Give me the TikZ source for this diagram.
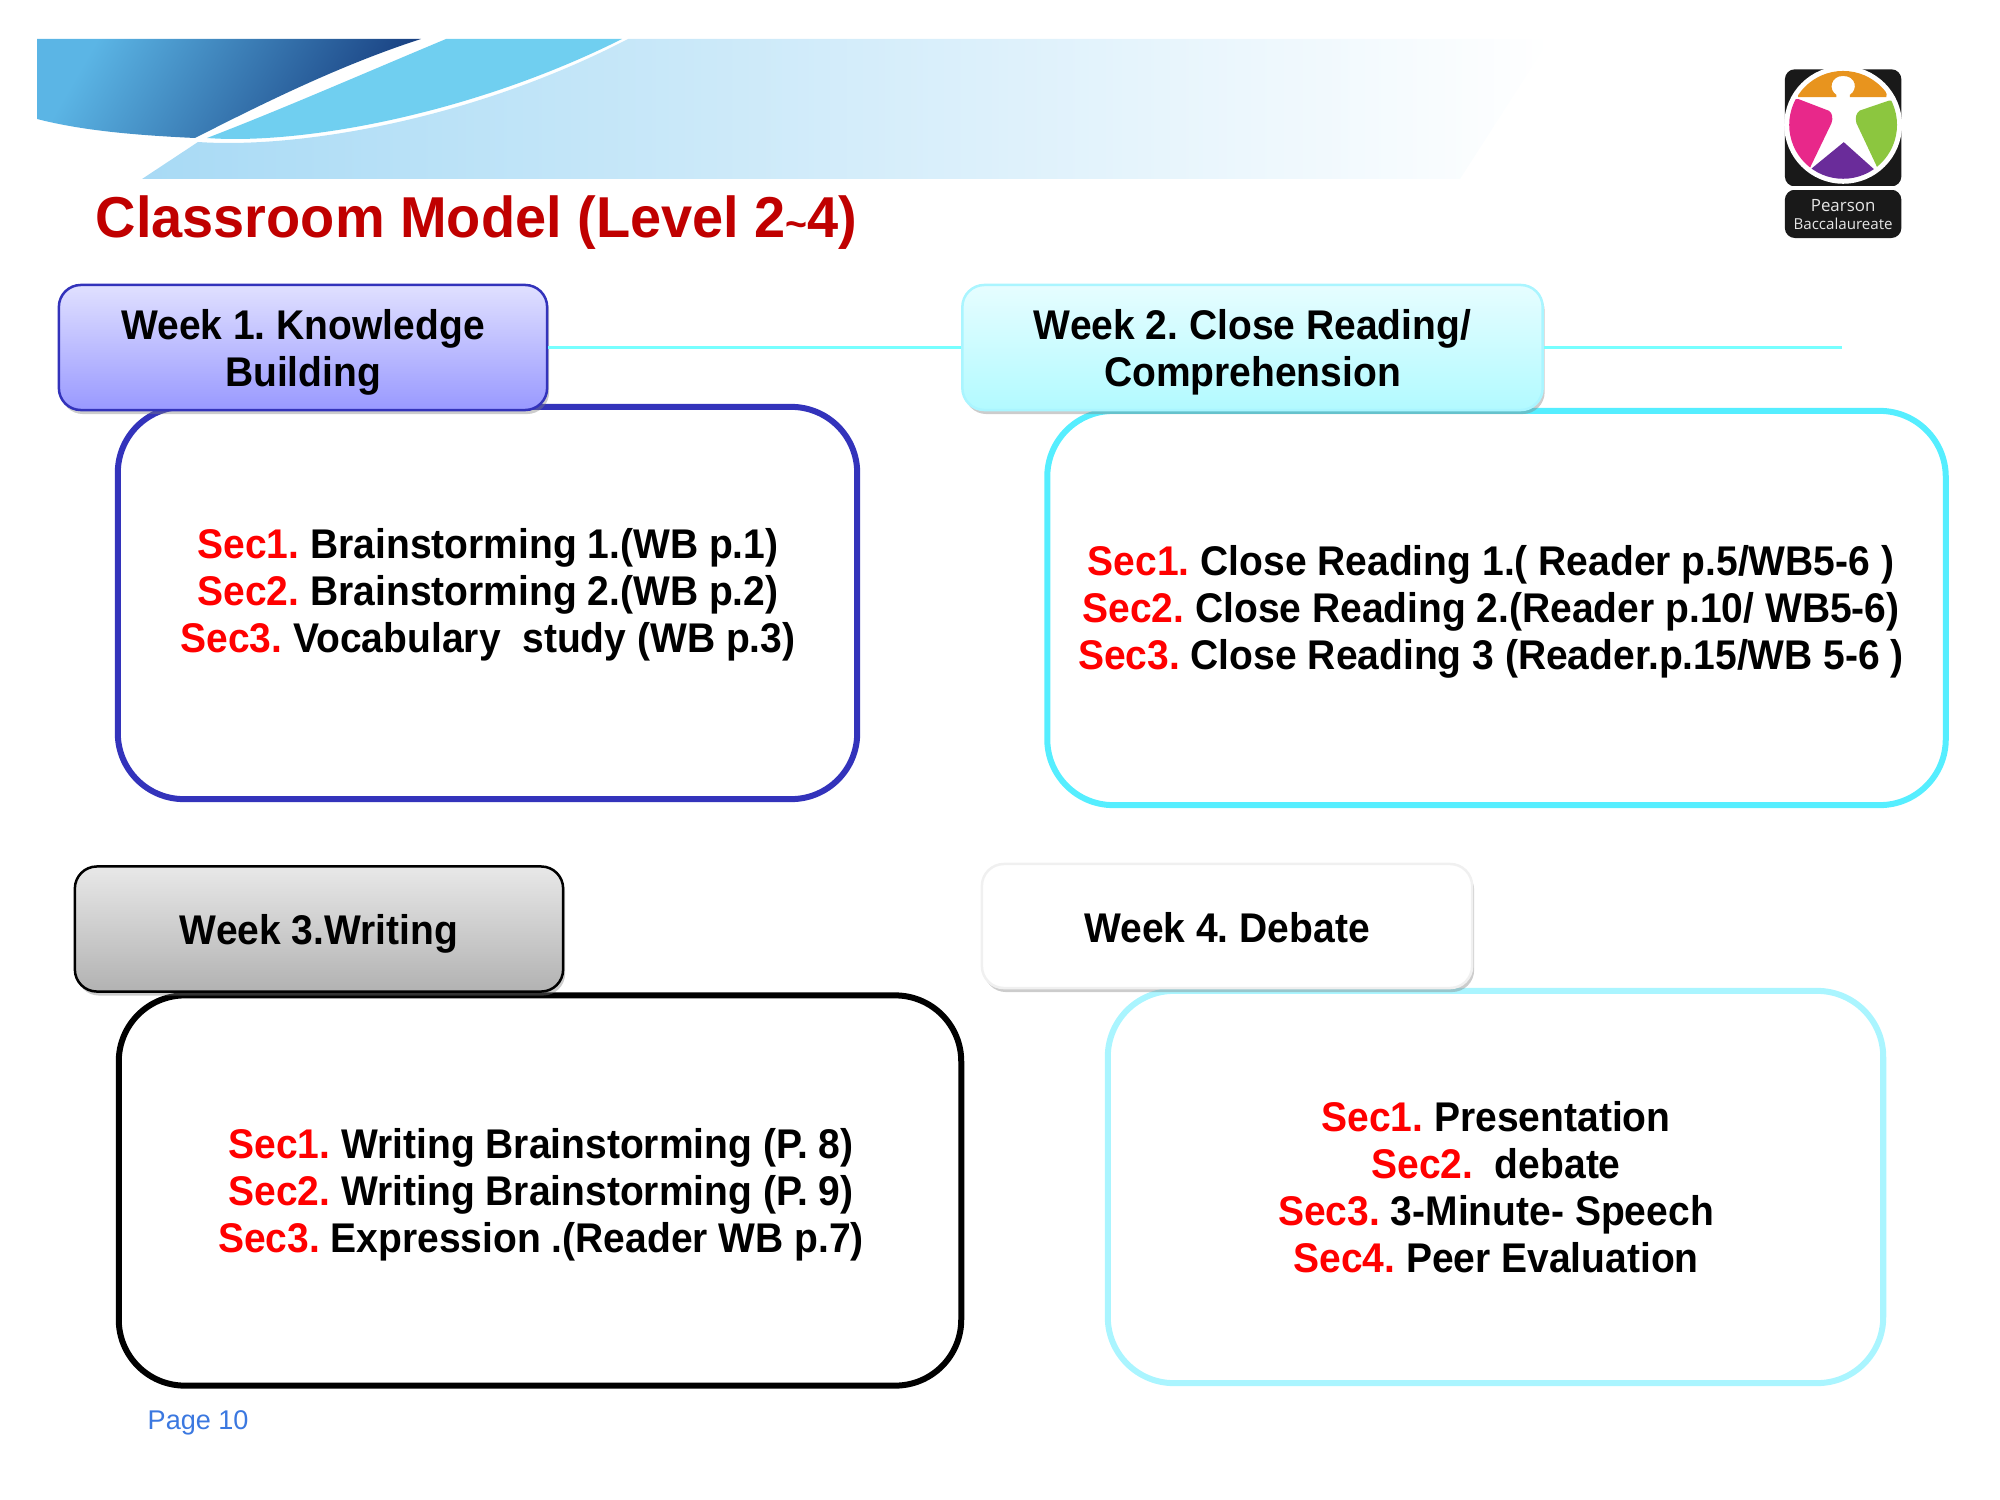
\documentclass[tikz,border=0pt]{standalone}
\usepackage{fontspec}
\setmainfont[FakeStretch=0.94]{Liberation Sans}
\newfontfamily\titlefont[FakeStretch=0.97]{Liberation Sans}
\newfontfamily\pagefont{Liberation Sans}
\newfontfamily\logofont{Open Sans}
\usetikzlibrary{shadows}
\definecolor{titlered}{HTML}{C00000}
\definecolor{blueline}{HTML}{3333BB}
\definecolor{cyanline}{HTML}{55EEFF}
\definecolor{paleline}{HTML}{AAF5FF}
\definecolor{hairline}{HTML}{77FFFF}
\definecolor{pagecolor}{HTML}{3B78E0}
\definecolor{lightblue}{HTML}{A8DAF5}
\definecolor{midblue}{HTML}{AFDCF5}
\definecolor{skyblue}{HTML}{70CFF0}
\definecolor{darkleft}{HTML}{5BB5E5}
\definecolor{darkmid}{HTML}{6996C8}
\definecolor{darkright}{HTML}{194182}
\definecolor{logoorange}{HTML}{E8941E}
\definecolor{logopink}{HTML}{E8288A}
\definecolor{logogreen}{HTML}{8CC63F}
\definecolor{logopurple}{HTML}{6A2C9A}
\newcommand{\secnum}[1]{\textcolor{red}{Sec#1.}}
\tikzset{
  weekbox/.style={rounded corners=0.22cm,inner sep=0pt,minimum width=4.88cm,minimum height=1.25cm,line width=0.025cm,
    drop shadow={shadow xshift=0.02cm,shadow yshift=-0.04cm,opacity=0.4}},
  weektext/.style={align=center,inner sep=0pt,font=\fontsize{11.8}{13.3}\selectfont\bfseries\frenchspacing},
  secbox/.style={draw,rounded corners=0.66cm,line width=0.06cm,inner sep=0pt},
  sectext/.style={align=center,inner sep=0pt,font=\fontsize{11.8}{13.3}\selectfont\bfseries\frenchspacing},
}
\begin{document}
\begin{tikzpicture}[x=0.01cm,y=-0.01cm]
	\useasboundingbox (0,0) rectangle (2000,1500);
	% banner
	\shade[left color=lightblue,middle color=midblue,right color=white]
		(142,179) -- (198,142) .. controls (300,149) and (474,119) .. (628,39) -- (1550,39) -- (1460,179) -- cycle;
	\fill[skyblue] (446,39) .. controls (360,75) and (280,110) .. (207,138) .. controls (300,145) and (470,115) .. (622,39) -- cycle;
	\shade[left color=darkleft,middle color=darkmid,right color=darkright,shading angle=60]
		(37,39) -- (421,39) .. controls (340,65) and (260,105) .. (195,138) .. controls (130,135) and (80,130) .. (37,119) -- cycle;
	% title
	\node[anchor=base west,inner sep=0pt,text=titlered,font=\titlefont\fontsize{16.4}{18}\selectfont\bfseries] (title) at (95,238) {Classroom Model (Level 2{\fontsize{11}{11}\selectfont\textasciitilde}4)};
	% logo
	\begin{scope}[shift={(1700,40)},x=0.00333cm,y=-0.00333cm]
		\fill[black!90,rounded corners=0.1cm] (255,88) rectangle (605,440);
		\fill[black!90,rounded corners=0.1cm] (255,450) rectangle (605,595);
		\fill[white,sharp corners] (255,440) rectangle (605,450);
		\fill[white] (430,255) circle (177);
		\begin{scope}
			\clip (430,255) circle (162);
			\fill[logoorange] (295,172) -- (295,90) -- (565,90) -- (560,172) -- (450,172) -- (450,165) .. controls (475,150) and (470,108) .. (430,108) .. controls (392,108) and (385,150) .. (410,165) -- (410,172) -- cycle;
			\fill[logopink] (297,178) -- (388,213) .. controls (398,220) and (400,235) .. (395,250) -- (330,385) -- (250,340) -- (250,178) -- cycle;
			\fill[logogreen] (568,182) -- (480,212) .. controls (468,220) and (466,235) .. (470,250) -- (535,388) -- (610,340) -- (610,182) -- cycle;
			\fill[logopurple] (432,307) -- (527,392) -- (480,440) -- (380,440) -- (333,388) -- cycle;
		\end{scope}
		\node[text=black!10,inner sep=0pt,font=\logofont\fontsize{4.8}{6}\selectfont] (pearson) at (430,497) {Pearson};
		\node[text=black!10,inner sep=0pt,font=\logofont\fontsize{4.3}{5}\selectfont] (bacc) at (430,552) {Baccalaureate};
	\end{scope}
	% section boxes
	\node[secbox,blueline,minimum width=7.39cm,minimum height=3.92cm] (box1) at (487.5,603) {};
	\node[secbox,cyanline,minimum width=8.98cm,minimum height=3.94cm] (box2) at (1496.5,608) {};
	\node[secbox,black,minimum width=8.42cm,minimum height=3.90cm] (box3) at (540,1190.5) {};
	\node[secbox,paleline,minimum width=7.75cm,minimum height=3.92cm] (box4) at (1495.5,1187) {};
	% week boxes
	\node[weekbox,draw=blueline,top color={rgb,255:red,224;green,224;blue,255},bottom color={rgb,255:red,153;green,153;blue,255}] (week1) at (303,347.5) {};
	\node[weekbox,draw=paleline,top color={rgb,255:red,230;green,253;blue,255},bottom color={rgb,255:red,178;green,250;blue,255},minimum width=5.80cm] (week2) at (1252.5,347.5) {};
	\node[weekbox,draw=black,top color={rgb,255:red,232;green,232;blue,232},bottom color={rgb,255:red,178;green,178;blue,178}] (week3) at (319,929) {};
	\node[weekbox,draw=black!6,fill=white,minimum width=4.90cm,minimum height=1.24cm] (week4) at (1227,926) {};
	\node[weektext] (label1) at ([yshift=-0.05cm]week1.center) {Week 1. Knowledge\\Building};
	\node[weektext] (label2) at ([yshift=-0.05cm]week2.center) {Week 2. Close Reading/\\Comprehension};
	\node[weektext] (label3) at ([yshift=-0.05cm]week3.center) {Week 3.Writing};
	\node[weektext] (label4) at ([yshift=-0.015cm]week4.center) {Week 4. Debate};
	% connectors
	\coordinate (lineend) at (1842,347.5);
	\draw[hairline,line width=0.025cm] (week1.east) -- (week2.west) (week2.east) -- (lineend);
	% section texts
	\node[sectext] (text1) at (488,595) {\secnum{1} Brainstorming 1.(WB p.1)\\\secnum{2} Brainstorming 2.(WB p.2)\\\secnum{3} Vocabulary\ \ study (WB p.3)};
	\node[sectext] (text2) at (1491,612) {\secnum{1} Close Reading 1.( Reader p.5/WB5-6 )\\\secnum{2} Close Reading 2.(Reader p.10/ WB5-6)\\\secnum{3} Close Reading 3 (Reader.p.15/WB 5-6 )};
	\node[sectext] (text3) at (541,1195) {\secnum{1} Writing Brainstorming (P. 8)\\\secnum{2} Writing Brainstorming (P. 9)\\\secnum{3} Expression .(Reader WB p.7)};
	\node[sectext] (text4) at (1496,1187) {\secnum{1} Presentation\\\secnum{2}\ \ debate\\\secnum{3} 3-Minute- Speech\\\secnum{4} Peer Evaluation};
	% page number
	\node[anchor=base west,inner sep=0pt,text=pagecolor,font=\pagefont\fontsize{7.7}{9}\selectfont] (page) at (147,1429) {Page 10};
\end{tikzpicture}
\end{document}
